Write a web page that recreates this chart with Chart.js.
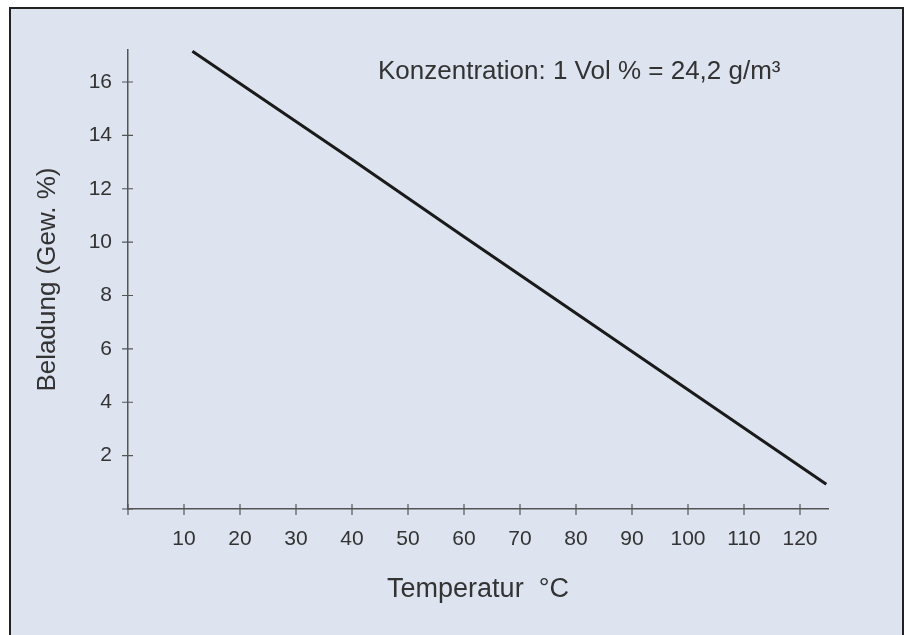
<!DOCTYPE html>
<html>
<head>
<meta charset="utf-8">
<script src="https://cdn.jsdelivr.net/npm/chart.js@4/dist/chart.umd.min.js"></script>
<style>
  html, body { margin: 0; padding: 0; background: #fff; width: 907px; height: 635px; overflow: hidden; }
  #frame {
    position: absolute; left: 9px; top: 7px; width: 891px; height: 640px;
    border: 2px solid #222; border-bottom: none; background: #dde3ef;
  }
  #wrap { position: absolute; left: 0; top: 0; width: 907px; height: 635px; }
</style>
</head>
<body>
<div id="frame"></div>
<div id="wrap"><canvas id="lineChart" width="907" height="635"></canvas></div>
<script>
// Temperatur (°C) und Beladung (Gew. %)
const temperatures = [11.5, 40, 60, 90, 124.7];
const loading = [17.15, 13.1, 10.2, 5.9, 0.93];
const xTicks = [0, 10, 20, 30, 40, 50, 60, 70, 80, 90, 100, 110, 120];
const yTicks = [0, 2, 4, 6, 8, 10, 12, 14, 16];
const noteText = 'Konzentration: 1 Vol % = 24,2 g/m\u00B3';

const textColor = '#333';
const axisColor = '#555';
const fontFamily = '"Liberation Sans", Arial, sans-serif';

// Tick-Striche, die die Achse kreuzen
const crossTicks = {
  id: 'crossTicks',
  afterDraw(chart) {
    const ctx = chart.ctx;
    const x = chart.scales.x;
    const y = chart.scales.y;
    const x0 = x.getPixelForValue(0);
    const y0 = y.getPixelForValue(0);
    ctx.save();
    ctx.strokeStyle = axisColor;
    ctx.lineWidth = 1.2;
    ctx.beginPath();
    xTicks.forEach(v => {
      const px = x.getPixelForValue(v);
      ctx.moveTo(px, y0 - 5);
      ctx.lineTo(px, y0 + 6);
    });
    yTicks.forEach(v => {
      const py = y.getPixelForValue(v);
      ctx.moveTo(x0 - 6, py);
      ctx.lineTo(x0 + 5, py);
    });
    ctx.stroke();
    // Hinweistext oben rechts
    ctx.fillStyle = textColor;
    ctx.font = '26px ' + fontFamily;
    ctx.textBaseline = 'middle';
    ctx.fillText(noteText, 378, 72);
    ctx.restore();
  }
};

window.onload = function() {
  const ctx = document.getElementById('lineChart').getContext('2d');
  new Chart(ctx, {
    type: 'line',
    data: {
      datasets: [{
        data: temperatures.map((t, i) => ({ x: t, y: loading[i] })),
        borderColor: '#1a1a1a',
        borderWidth: 3,
        pointRadius: 0,
        tension: 0,
        fill: false
      }]
    },
    options: {
      responsive: false,
      animation: false,
      layout: { padding: { top: 50, right: 79, left: 20, bottom: 0 } },
      plugins: { legend: { display: false }, tooltip: { enabled: false } },
      scales: {
        x: {
          type: 'linear',
          min: 0,
          max: 125,
          afterFit: s => { s.height = 126; },
          afterBuildTicks: s => { s.ticks = xTicks.map(v => ({ value: v })); },
          border: { color: axisColor, width: 1.5 },
          grid: { display: true, drawOnChartArea: false, drawTicks: false },
          ticks: {
            padding: 18,
            color: textColor,
            font: { family: fontFamily, size: 21 },
            callback: v => v === 0 ? '' : v,
            maxRotation: 0
          },
          title: {
            display: true,
            text: 'Temperatur  \u00B0C',
            color: textColor,
            font: { family: fontFamily, size: 27 },
            padding: { top: 0, bottom: 29 }
          }
        },
        y: {
          type: 'linear',
          min: 0,
          max: 17.2,
          afterFit: s => { s.width = 108; },
          afterBuildTicks: s => { s.ticks = yTicks.map(v => ({ value: v })); },
          border: { color: axisColor, width: 1.5 },
          grid: { display: true, drawOnChartArea: false, drawTicks: false },
          ticks: {
            padding: 16,
            color: textColor,
            font: { family: fontFamily, size: 21 },
            callback: v => v === 0 ? '' : v
          },
          title: {
            display: true,
            text: 'Beladung (Gew. %)',
            color: textColor,
            font: { family: fontFamily, size: 26 },
            padding: { top: 12, bottom: 0 }
          }
        }
      }
    },
    plugins: [crossTicks]
  });
};
</script>
</body>
</html>
